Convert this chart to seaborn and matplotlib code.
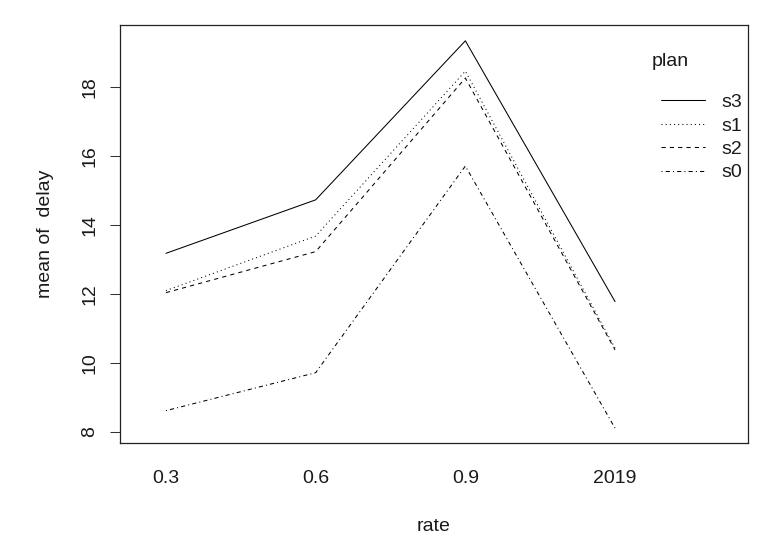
import matplotlib
matplotlib.use("Agg")
import matplotlib.pyplot as plt
from matplotlib.lines import Line2D
import seaborn as sns
import pandas as pd

# ---- data ----
rates = ["0.3", "0.6", "0.9", "2019"]
plans = ["s3", "s1", "s2", "s0"]
s3 = [13.17, 14.72, 19.33, 11.77]
s1 = [12.09, 13.67, 18.45, 10.42]
s2 = [12.03, 13.22, 18.25, 10.37]
s0 = [8.61, 9.71, 15.70, 8.10]
yticks = [8, 10, 12, 14, 16, 18]

series = {"s3": s3, "s1": s1, "s2": s2, "s0": s0}
rows = []
for p in plans:
    for r, v in zip(rates, series[p]):
        rows.append({"rate": r, "plan": p, "delay": v})
df = pd.DataFrame(rows)

sns.set_style("white")
plt.rcParams["font.family"] = ["Liberation Sans", "DejaVu Sans"]
FS = 14
TXT = "#1a1a1a"

W, H = 777, 549
fig = plt.figure(figsize=(W / 100, H / 100), dpi=100)
ax = fig.add_axes([120 / W, 1 - 443.3 / H, (747.7 - 120) / W, (443.3 - 25) / H])

LW = 0.75
dashes = {"s3": "", "s1": (1, 3), "s2": (4, 4), "s0": (1, 3, 4, 3)}
sns.lineplot(data=df, x="rate", y="delay", style="plan", style_order=plans,
             dashes=dashes, color="black", linewidth=LW, legend=False,
             sort=False, ax=ax)

ax.set_xlim(-0.307, 3.886)
ax.set_ylim(7.664, 19.788)
ax.set_xticks(range(len(rates)))
ax.set_xticklabels(rates)
ax.set_yticks(yticks)
ax.set_yticklabels([str(t) for t in yticks], rotation=90, va="center")
ax.tick_params(axis="x", length=0, pad=19, labelsize=FS, labelcolor=TXT)
ax.tick_params(axis="y", left=True, length=7.2, width=0.75, color="#333333",
               pad=8.5, labelsize=FS, labelcolor=TXT)
for sp in ax.spines.values():
    sp.set_visible(True)
    sp.set_color("#222222")
    sp.set_linewidth(0.9)

ax.set_xlabel("rate", fontsize=FS, color=TXT)
ax.set_ylabel("mean of  delay", fontsize=FS, color=TXT)
ax.xaxis.set_label_coords(0.5, (443.3 - 518) / (443.3 - 25))
ax.yaxis.set_label_coords((54 - 120) / (747.7 - 120), 0.5)

# legend
fig.text(651.7 / W, 1 - 61.7 / H, "plan", fontsize=FS, color=TXT,
         ha="left", va="center")
handles = []
for p in plans:
    h = Line2D([], [], color="black", linewidth=LW, linestyle="-")
    if dashes[p]:
        h.set_dashes(dashes[p])
    handles.append(h)
leg = ax.legend(handles, plans, loc="upper left",
                bbox_to_anchor=(660.7 / W, 1 - 93.5 / H),
                bbox_transform=fig.transFigure, frameon=False,
                fontsize=FS, borderpad=0, borderaxespad=0,
                handlelength=44.3 / 19.4, handletextpad=0.82,
                labelspacing=0.3)
for t in leg.get_texts():
    t.set_color(TXT)

fig.savefig("out.png", dpi=100)
